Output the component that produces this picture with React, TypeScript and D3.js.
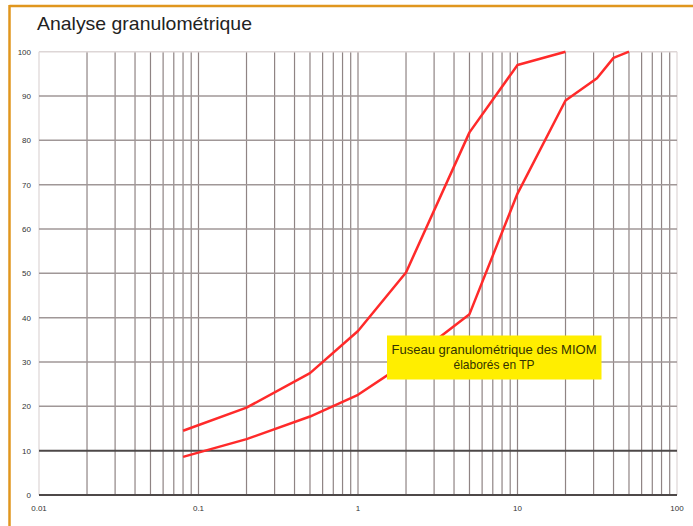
import React, { useEffect, useRef } from "react";
import * as d3 from "d3";

// sieve sizes (mm) and passing percentages for the two envelope curves
const upperSizes = [0.08, 0.2, 0.5, 1, 2, 5, 10, 20];
const upperPassing = [14.5, 19.7, 27.5, 37, 50.2, 81.8, 97, 100];
const lowerSizes = [0.08, 0.2, 0.5, 1, 2, 5, 10, 20, 31.5, 40, 50];
const lowerPassing = [8.6, 12.6, 17.7, 22.6, 29.8, 40.8, 68, 89, 94, 98.6, 100];

const xTickLabels = ["0.01", "0.1", "1", "10", "100"];
const yTicks = [0, 10, 20, 30, 40, 50, 60, 70, 80, 90, 100];

const App = () => {
  const ref = useRef<SVGSVGElement>(null);

  useEffect(() => {
    draw();
  });

  let draw = () => {
    const svg = d3.select(ref.current);
    svg.selectAll("*").remove();

    const width = 693;
    const height = 526;
    const x = d3.scaleLog().domain([0.01, 100]).range([39, 677]);
    const y = d3.scaleLinear().domain([0, 100]).range([495, 51.7]);

    // orange frame (top and left)
    svg
      .append("line")
      .attr("x1", 9.5)
      .attr("x2", width)
      .attr("y1", 6)
      .attr("y2", 6)
      .attr("stroke", "#e0961e")
      .attr("stroke-width", 2.5);
    svg
      .append("line")
      .attr("x1", 9.5)
      .attr("x2", 9.5)
      .attr("y1", 5)
      .attr("y2", height)
      .attr("stroke", "#e0961e")
      .attr("stroke-width", 2.5);

    svg
      .append("text")
      .attr("x", 37)
      .attr("y", 30)
      .attr("font-family", "Liberation Sans, Arial, sans-serif")
      .attr("font-size", 19)
      .attr("textLength", 215)
      .attr("lengthAdjust", "spacingAndGlyphs")
      .attr("fill", "#222")
      .text("Analyse granulométrique");

    const g = svg.append("g");

    // vertical log grid
    const vTicks: number[] = [];
    for (let dec = 0.01; dec < 100; dec *= 10) {
      for (let m = 1; m < 10; m++) vTicks.push(+(dec * m).toPrecision(3));
    }
    vTicks.push(100);
    g.selectAll("line.v")
      .data(vTicks)
      .enter()
      .append("line")
      .attr("x1", (d) => x(d))
      .attr("x2", (d) => x(d))
      .attr("y1", y(100))
      .attr("y2", y(0))
      .attr("stroke", (d) => (d === 0.01 || d === 100 ? "#ddd6d6" : "#8f8484"))
      .attr("stroke-width", 1.2);

    // horizontal grid
    g.selectAll("line.h")
      .data(yTicks)
      .enter()
      .append("line")
      .attr("x1", x(0.01))
      .attr("x2", x(100))
      .attr("y1", (d) => y(d))
      .attr("y2", (d) => y(d))
      .attr("stroke", (d) => (d === 0 || d === 10 ? "#4d4848" : d === 100 ? "#ddd6d6" : "#a09797"))
      .attr("stroke-width", (d) => (d === 0 || d === 10 ? 2 : 1.5));

    // axis labels
    g.selectAll("text.y")
      .data(yTicks)
      .enter()
      .append("text")
      .attr("x", 31)
      .attr("y", (d) => y(d) + 3)
      .attr("text-anchor", "end")
      .attr("font-family", "Liberation Sans Narrow, Arial Narrow, sans-serif")
      .attr("font-size", 8)
      .attr("fill", "#333")
      .text((d) => d);

    g.selectAll("text.x")
      .data(xTickLabels)
      .enter()
      .append("text")
      .attr("x", (d) => x(+d))
      .attr("y", 511)
      .attr("text-anchor", "middle")
      .attr("font-family", "Liberation Sans Narrow, Arial Narrow, sans-serif")
      .attr("font-size", 8)
      .attr("fill", "#333")
      .text((d) => d);

    // curves
    const line = d3
      .line<[number, number]>()
      .x((d) => x(d[0]))
      .y((d) => y(d[1]));
    const curves = [
      upperSizes.map((s, i) => [s, upperPassing[i]] as [number, number]),
      lowerSizes.map((s, i) => [s, lowerPassing[i]] as [number, number]),
    ];
    g.selectAll("path.curve")
      .data(curves)
      .enter()
      .append("path")
      .attr("d", (d) => line(d))
      .attr("fill", "none")
      .attr("stroke", "#ff2a2a")
      .attr("stroke-width", 2.5)
      .attr("stroke-linejoin", "round");

    // yellow legend box
    svg
      .append("rect")
      .attr("x", 387)
      .attr("y", 335.5)
      .attr("width", 214.5)
      .attr("height", 44)
      .attr("fill", "#ffee00");
    const font = "Liberation Sans Narrow, Arial Narrow, sans-serif";
    svg
      .append("text")
      .attr("x", 494)
      .attr("y", 354)
      .attr("text-anchor", "middle")
      .attr("font-family", font)
      .attr("font-size", 13)
      .attr("textLength", 205)
      .attr("lengthAdjust", "spacingAndGlyphs")
      .attr("fill", "#333300")
      .text("Fuseau granulométrique des MIOM");
    svg
      .append("text")
      .attr("x", 494)
      .attr("y", 369)
      .attr("text-anchor", "middle")
      .attr("font-family", font)
      .attr("font-size", 13)
      .attr("textLength", 81)
      .attr("lengthAdjust", "spacingAndGlyphs")
      .attr("fill", "#333300")
      .text("élaborés en TP");
  };

  return (
    <svg
      ref={ref}
      width={693}
      height={526}
      style={{ position: "absolute", left: 0, top: 0, background: "#fff" }}
    />
  );
};

export default App;
